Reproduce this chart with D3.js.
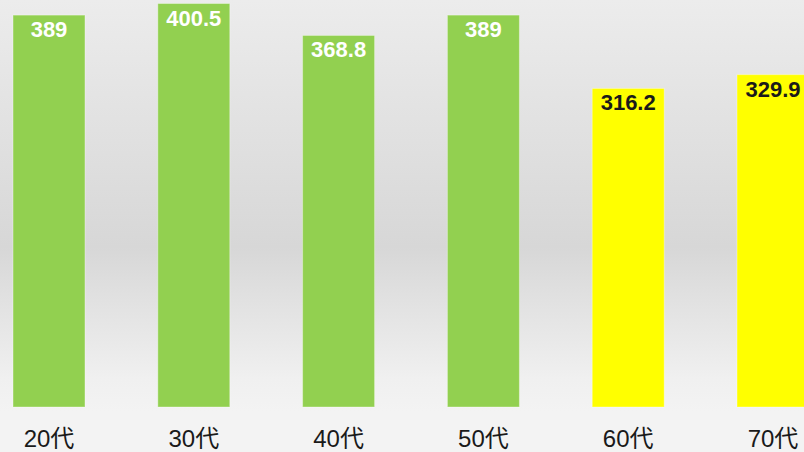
<!DOCTYPE html>
<html>
<head>
<meta charset="utf-8">
<script src="https://cdn.jsdelivr.net/npm/d3@7"></script>
<style>
  html, body { margin: 0; padding: 0; }
  body { width: 804px; height: 452px; overflow: hidden; }
</style>
</head>
<body>
<div id="chart"></div>
<script>
// data
var categories = ["20代", "30代", "40代", "50代", "60代", "70代"];
var values = [389, 400.5, 368.8, 389, 316.2, 329.9];
var groups = ["young", "young", "young", "young", "senior", "senior"];

var width = 804;
var height = 452;

var svg = d3.select("#chart")
  .append("svg")
    .attr("width", width)
    .attr("height", height);

// background gradient (light top, grey middle, light bottom)
var defs = svg.append("defs");
var grad = defs.append("linearGradient")
    .attr("id", "bg")
    .attr("x1", 0).attr("y1", 0)
    .attr("x2", 0).attr("y2", 1);
grad.append("stop").attr("offset", "0%").attr("stop-color", "#ececec");
grad.append("stop").attr("offset", "60%").attr("stop-color", "#d7d7d7");
grad.append("stop").attr("offset", "92%").attr("stop-color", "#f0f0f0");
grad.append("stop").attr("offset", "100%").attr("stop-color", "#f3f3f3");

svg.append("rect")
    .attr("width", width)
    .attr("height", height)
    .attr("fill", "#f3f3f3");
svg.append("rect")
    .attr("width", width)
    .attr("height", 412)
    .attr("fill", "url(#bg)");

//scales
var x = d3.scaleBand()
    .domain(categories)
    .range([-23.4, 845.4])
    .paddingInner(0.503)
    .paddingOuter(0.2515);

var y = d3.scaleLinear()
    .domain([0, 404])
    .range([407, 0]);

var color = d3.scaleOrdinal()
    .domain(["young", "senior"])
    .range(["#92d050", "#ffff00"]);

var labelColor = d3.scaleOrdinal()
    .domain(["young", "senior"])
    .range(["#ffffff", "#1a1a1a"]);

// bars
svg.selectAll("rect.bar")
  .data(values)
  .enter()
  .append("rect")
    .attr("class", "bar")
    .attr("x", function(d, i) { return x(categories[i]); })
    .attr("y", function(d) { return y(d); })
    .attr("width", x.bandwidth())
    .attr("height", function(d) { return y(0) - y(d); })
    .attr("fill", function(d, i) { return color(groups[i]); })
    .attr("stroke", "rgba(255,255,255,0.35)")
    .attr("stroke-width", 1);

// value labels inside the top of the bars
svg.selectAll("text.value")
  .data(values)
  .enter()
  .append("text")
    .attr("class", "value")
    .attr("x", function(d, i) { return x(categories[i]) + x.bandwidth() / 2; })
    .attr("y", function(d) { return y(d) + 22; })
    .attr("text-anchor", "middle")
    .style("font-family", "'Liberation Sans', Arial, sans-serif")
    .style("font-weight", "bold")
    .style("font-size", "22px")
    .style("fill", function(d, i) { return labelColor(groups[i]); })
    .text(function(d) { return d; });

// category axis
var xAxis = svg.append("g")
    .attr("transform", "translate(0,426)")
    .call(d3.axisBottom(x).tickSize(0).tickPadding(0));
xAxis.select(".domain").remove();
xAxis.selectAll("text")
    .attr("dy", "0")
    .attr("y", 21)
    .style("font-family", "'Liberation Sans', 'Noto Sans CJK JP', Arial, sans-serif")
    .style("font-size", "24px")
    .style("fill", "#1a1a1a");
</script>
</body>
</html>
